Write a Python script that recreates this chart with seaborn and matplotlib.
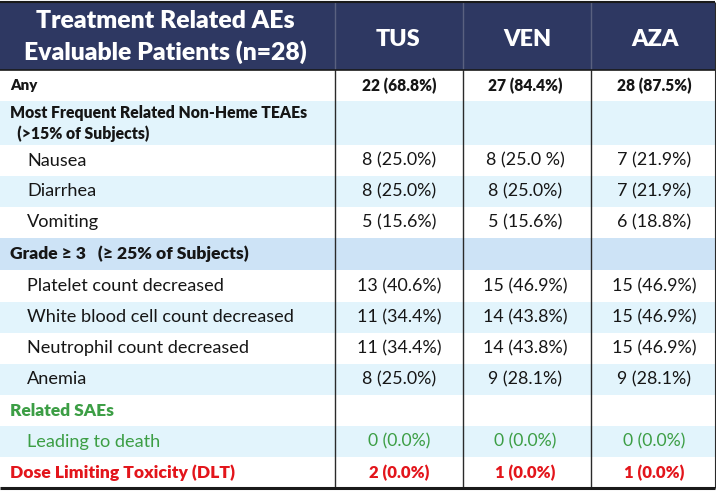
import matplotlib
matplotlib.use('Agg')
import matplotlib.pyplot as plt
import seaborn as sns

# ── Datos de la tabla ────────────────────────────────────────────────────────
header_left = ['Treatment Related AEs', 'Evaluable Patients (n=28)']
arms = ['TUS', 'VEN', 'AZA']
row_labels = [
    'Any',
    'Most Frequent Related Non-Heme TEAEs\n  (>15% of Subjects)',
    'Nausea',
    'Diarrhea',
    'Vomiting',
    'Grade ≥ 3   (≥ 25% of Subjects)',
    'Platelet count decreased',
    'White blood cell count decreased',
    'Neutrophil count decreased',
    'Anemia',
    'Related SAEs',
    'Leading to death',
    'Dose Limiting Toxicity (DLT)',
]
tus_vals = ['22 (68.8%)', '', '8 (25.0%)', '8 (25.0%)', '5 (15.6%)', '',
            '13 (40.6%)', '11 (34.4%)', '11 (34.4%)', '8 (25.0%)', '',
            '0 (0.0%)', '2 (0.0%)']
ven_vals = ['27 (84.4%)', '', '8 (25.0 %)', '8 (25.0%)', '5 (15.6%)', '',
            '15 (46.9%)', '14 (43.8%)', '14 (43.8%)', '9 (28.1%)', '',
            '0 (0.0%)', '1 (0.0%)']
aza_vals = ['28 (87.5%)', '', '7 (21.9%)', '7 (21.9%)', '6 (18.8%)', '',
            '15 (46.9%)', '15 (46.9%)', '15 (46.9%)', '9 (28.1%)', '',
            '0 (0.0%)', '1 (0.0%)']
row_kind = ['total', 'section', 'item', 'item', 'item', 'grade',
            'item', 'item', 'item', 'item', 'sae', 'sae_item', 'dlt']

# ── Layout (pixeles) ─────────────────────────────────────────────────────────
W, H = 716, 495
top, header_h = 2, 68
row_h = [31, 44, 31, 31, 31, 32, 32, 31, 31, 31, 31, 31, 31]
col_edges = [0, 335, 463, 591, 715]
arm_x = [398, 527, 655]
val_x = [399, 525, 654]

NAVY = '#2E3862'
LIGHT = '#E2F4FC'
GRADE = '#CDE3F6'
GREEN = '#3C9E45'
RED = '#E3151B'
INK = '#161616'

style = {
    'total':    dict(bg='white', color=INK,   weight='heavy',  size=10.8, x=10, vsize=11.2),
    'section':  dict(bg=LIGHT,   color=INK,   weight='heavy',  size=11.3, x=10, vsize=11.2),
    'item':     dict(bg=None,    color=INK,   weight='normal', size=13.1, x=27, vsize=12.9),
    'grade':    dict(bg=GRADE,   color=INK,   weight='heavy',  size=12.6, x=10, vsize=12.0),
    'sae':      dict(bg='white', color=GREEN, weight='heavy',  size=12.5, x=10, vsize=12.0),
    'sae_item': dict(bg=LIGHT,   color=GREEN, weight='normal', size=13.1, x=27, vsize=12.7),
    'dlt':      dict(bg='white', color=RED,   weight='heavy',  size=12.6, x=10, vsize=12.0),
}

sns.set_theme(style='white')
plt.rcParams['font.family'] = ['Lato', 'DejaVu Sans']

fig = plt.figure(figsize=(W / 100, H / 100), dpi=100)
ax = fig.add_axes([0, 0, 1, 1])
ax.set_xlim(0, W)
ax.set_ylim(H, 0)
ax.axis('off')

# fondos de filas
y0 = top + header_h
centers, colors = [], []
for i, h in enumerate(row_h):
    centers.append(y0 + h / 2)
    bg = style[row_kind[i]]['bg']
    if bg is None:
        bg = 'white' if i % 2 == 0 else LIGHT
    colors.append(bg)
    y0 += h
bottom = y0
ax.barh(centers, col_edges[-1], height=row_h, left=0, color=colors, linewidth=0)
ax.barh(top + header_h / 2, col_edges[-1], height=header_h, left=0, color=NAVY, linewidth=0)

# líneas
ax.vlines(col_edges[1:-1], top, top + header_h, color='#5A6180', lw=1.0)
ax.vlines(col_edges[1:-1], top + header_h, bottom, color='#2A2A2A', lw=1.0)
ax.vlines(col_edges[-1], top, bottom, color='#2A2A2A', lw=0.8)
ax.hlines(top, 0, col_edges[-1], color='#1A1A1A', lw=1.5)
ax.hlines(top + header_h, 0, col_edges[-1], color='#1A1A1A', lw=1.2)
ax.hlines(bottom, 0, col_edges[-1], color='#1A1A1A', lw=2.2)

# encabezado
ax.text(165, top + 19, header_left[0], ha='center', va='center', color='white',
        fontsize=17.8, fontweight='heavy')
ax.text(165, top + 50, header_left[1], ha='center', va='center', color='white',
        fontsize=17.8, fontweight='heavy')
for name, x in zip(arms, arm_x):
    ax.text(x, top + header_h / 2 + 3, name, ha='center', va='center', color='white',
            fontsize=16.8, fontweight='heavy')

# filas
for i, (lab, yc) in enumerate(zip(row_labels, centers)):
    s = style[row_kind[i]]
    lines = lab.split('\n')
    if len(lines) == 1:
        ax.text(s['x'], yc, lab, ha='left', va='center', color=s['color'],
                fontsize=s['size'], fontweight=s['weight'])
    else:
        ax.text(s['x'], yc - 10, lines[0], ha='left', va='center', color=s['color'],
                fontsize=s['size'], fontweight=s['weight'])
        ax.text(s['x'], yc + 11, lines[1], ha='left', va='center', color=s['color'],
                fontsize=s['size'], fontweight=s['weight'])
    for vals, x in zip([tus_vals, ven_vals, aza_vals], val_x):
        if vals[i]:
            ax.text(x, yc, vals[i], ha='center', va='center', color=s['color'],
                    fontsize=s['vsize'], fontweight=s['weight'])

fig.savefig('out.png', dpi=100)
